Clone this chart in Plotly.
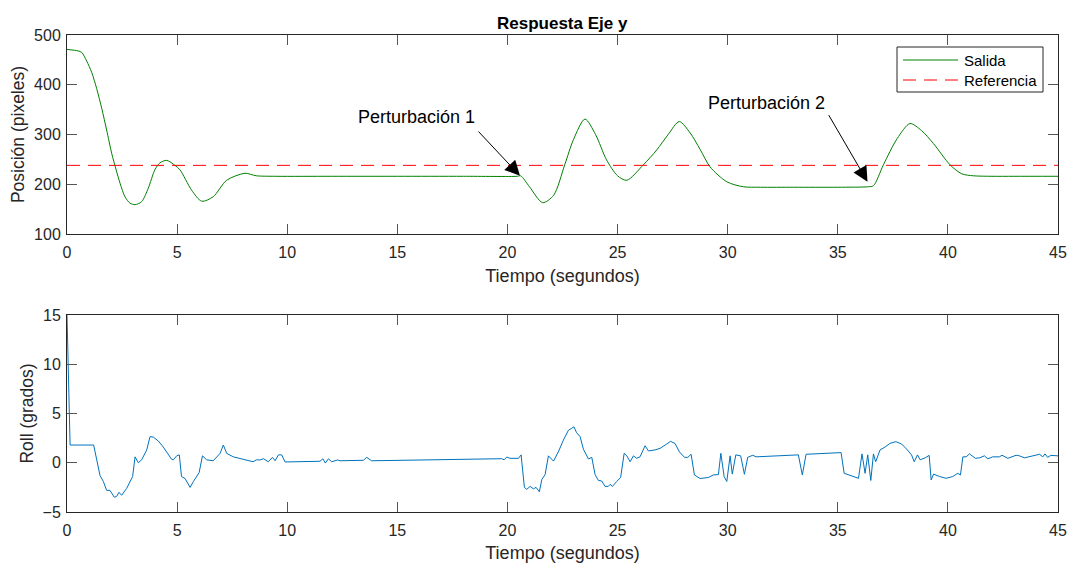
import plotly.graph_objects as go

# --- Posición en el eje y (pixeles) ---
t_pos = [0, 0.51, 0.67, 0.89, 1.12, 1.35, 1.58, 1.8, 2.03, 2.23, 2.41, 2.63, 2.86, 3.09,
         3.39, 3.69, 3.99, 4.22, 4.53, 4.9, 5.13, 5.66, 6.12, 6.64, 7.25, 8.08, 8.6, 9.5,
         12, 15, 18, 20.45, 20.6, 21.0, 21.6, 22.1, 22.6, 23.0, 23.52, 24.0, 24.5, 25.0,
         25.42, 26.17, 26.78, 27.3, 27.8, 28.3, 28.75, 29.2, 29.96, 30.71, 31.5, 33, 35,
         36.39, 36.62, 37.07, 37.7, 38.28, 38.8, 39.34, 40.1, 40.63, 41.16, 42, 43, 45]
salida = [471, 468, 465, 448, 425, 392, 352, 309, 262, 229, 202, 175, 162, 159,
          165, 192, 229, 243, 248, 238, 229, 188, 166, 175, 208, 222, 217, 216,
          216, 216, 216, 216, 217, 195, 163, 178, 239, 290, 331, 300, 249, 217,
          208, 239, 269, 300, 326, 303, 270, 235, 205, 195, 194, 194, 194,
          195, 197, 239, 292, 322, 308, 282, 239, 221, 217, 216, 216, 216]

t_ref = [0, 45]
referencia = [238, 238]

# --- Ángulo de roll (grados) ---
t_roll = [0, 0.14, 1.21, 1.5, 1.65, 1.8, 1.95, 2.15, 2.26, 2.36, 2.48, 2.71, 2.98, 3.09,
          3.24, 3.39, 3.62, 3.77, 3.92, 4.15, 4.37, 4.52, 4.75, 4.83, 4.98, 5.1, 5.2, 5.36,
          5.59, 5.74, 6.0, 6.15, 6.34, 6.64, 6.95, 7.1, 7.25, 7.55, 7.85, 8.15, 8.45, 8.6,
          8.76, 8.92, 9.14, 9.33, 9.45, 9.6, 9.75, 9.9, 11.49, 11.62, 11.73, 11.87, 12.02,
          12.28, 12.4, 13.46, 13.61, 13.83, 19.74, 19.85, 19.97, 20.12, 20.5, 20.62, 20.77,
          20.88, 21.03, 21.18, 21.3, 21.45, 21.56, 21.71, 21.86, 22.09, 22.31, 22.54, 22.77,
          22.92, 23.02, 23.14, 23.3, 23.45, 23.68, 23.83, 23.98, 24.13, 24.28, 24.43, 24.58,
          24.66, 24.77, 24.96, 25.14, 25.3, 25.42, 25.57, 25.72, 25.87, 26.02, 26.25, 26.4,
          26.7, 26.93, 27.16, 27.41, 27.61, 27.81, 28.04, 28.19, 28.34, 28.49, 28.75, 29.12,
          29.35, 29.58, 29.69, 29.84, 29.96, 30.11, 30.21, 30.37, 30.59, 30.76, 30.91, 31.14,
          31.29, 33.21, 33.39, 33.56, 35.15, 35.29, 35.94, 36.1, 36.24, 36.36, 36.5, 36.62,
          36.72, 36.92, 37.15, 37.37, 37.64, 37.9, 38.12, 38.35, 38.47, 38.62, 38.74, 38.97,
          39.15, 39.24, 39.35, 39.62, 39.92, 40.22, 40.45, 40.57, 40.68, 40.83, 40.98, 41.25,
          41.44, 41.66, 41.81, 42.04, 42.34, 42.46, 42.72, 43.1, 43.25, 43.48, 43.86, 44.16,
          44.31, 44.41, 44.53, 44.68, 45]
roll = [15, 1.8, 1.8, -1.3, -1.9, -2.8, -2.8, -3.5, -3.4, -3.0, -3.3, -2.6, -1.4, 0.6,
        0.0, 0.3, 1.3, 2.65, 2.6, 2.2, 1.6, 1.1, 0.35, 0.3, 0.7, 0.8, -1.4, -1.6,
        -2.5, -1.9, -1.0, 0.7, 0.3, 0.2, 0.95, 1.8, 0.95, 0.6, 0.45, 0.3, 0.1, 0.3,
        0.28, 0.41, 0.1, 0.55, 0.2, 0.8, 0.8, 0.08, 0.15, 0.4, -0.03, 0.4, 0.1,
        0.28, 0.2, 0.25, 0.55, 0.2, 0.41, 0.3, 0.58, 0.45, 0.45, 0.8, -2.5,
        -2.7, -2.4, -2.65, -2.5, -2.95, -1.7, -1.2, 0.7, 0.17, 1.1, 2.3, 3.3,
        3.5, 3.65, 3.05, 2.65, 1.37, 0.38, 0.55, -1.2, -1.8, -1.85, -2.4, -2.4,
        -2.2, -2.4, -1.9, -1.5, 0.96, 0.7, 0.1, 0.7, 0.45, 0.6, 1.73, 1.2,
        1.3, 1.46, 1.8, 2.17, 1.96, 1.1, 0.55, 0.55, 0.86, -1.24, -1.6, -1.5,
        -1.24, -1.2, 0.96, -1.4, -1.9, 0.7, -1.15, 0.8, 0.7, -1.17, 0.55, 0.76,
        0.6, 0.8, -1.24, 0.86, 1.03, -1.07, -1.58, 0.9, -1.07, 0.8, -1.8, 0.9,
        0.1, 1.3, 1.6, 1.97, 2.14, 1.9, 1.4, 0.8, 0.1, 0.8, 0.3, 0.5,
        0.75, -1.75, -1.15, -1.4, -1.58, -1.4, -1.07, -1.24, 0.6, 0.6, 0.9, 0.45,
        0.5, 0.7, 0.4, 0.6, 0.6, 0.76, 0.45, 0.76, 0.7, 0.5, 0.7, 0.86,
        0.6, 0.9, 0.55, 0.75, 0.7]

FONT = "Liberation Sans, Arial, sans-serif"
AX_COLOR = "#262626"
GREEN = "#008000"
RED = "#FF0000"
DASH = "13px,8px"

fig = go.Figure()
fig.add_trace(go.Scatter(x=t_pos, y=salida, mode="lines", name="Salida", showlegend=False,
                         line=dict(color=GREEN, width=1, shape="spline", smoothing=0.8),
                         xaxis="x", yaxis="y"))
fig.add_trace(go.Scatter(x=t_ref, y=referencia, mode="lines", name="Referencia", showlegend=False,
                         line=dict(color=RED, width=1, dash=DASH),
                         xaxis="x", yaxis="y"))
fig.add_trace(go.Scatter(x=t_roll, y=roll, mode="lines", showlegend=False,
                         line=dict(color="#0072BD", width=1),
                         xaxis="x2", yaxis="y2"))

axis_common = dict(showline=True, linecolor=AX_COLOR, linewidth=1, mirror="ticks",
                   ticks="inside", ticklen=10, tickcolor="#555555", tickwidth=1,
                   showgrid=False, zeroline=False, automargin=False,
                   tickfont=dict(family=FONT, size=16, color=AX_COLOR))

xtitle = dict(text="Tiempo (segundos)", font=dict(family=FONT, size=18, color=AX_COLOR),
              standoff=9)

# plot area in pixels: left 67, right 1058, top 35, bottom 512
L, R, T, B = 67, 1058, 35, 512
W, H = R - L, B - T


def px(xp):
    return (xp - L) / W


def py(yp):
    return (B - yp) / H


fig.update_layout(
    width=1070, height=563,
    margin=dict(l=L, r=1070 - R, t=T, b=563 - B),
    paper_bgcolor="white", plot_bgcolor="white",
    showlegend=False,
    xaxis=dict(domain=[0, 1], range=[0, 45], dtick=5, anchor="y", title=xtitle,
               ticklabelstandoff=4, **axis_common),
    yaxis=dict(domain=[py(234), 1], range=[100, 500], dtick=100, anchor="x",
               title=dict(text="Posición (pixeles)", font=dict(family=FONT, size=17.5, color=AX_COLOR),
                          standoff=4),
               ticklabelstandoff=2, **axis_common),
    xaxis2=dict(domain=[0, 1], range=[0, 45], dtick=5, anchor="y2", title=xtitle,
                ticklabelstandoff=4, **axis_common),
    yaxis2=dict(domain=[0, py(315)], range=[-5, 15], dtick=5, anchor="x2",
                title=dict(text="Roll (grados)", font=dict(family=FONT, size=17.5, color=AX_COLOR),
                           standoff=4),
                ticklabelstandoff=2, **axis_common),
)

# legend box for the upper panel
fig.add_shape(type="rect", xref="paper", yref="paper",
              x0=px(897), x1=px(1043), y0=py(92), y1=py(47),
              line=dict(color=AX_COLOR, width=1), fillcolor="white", layer="above")
legend_rows = [("Salida", GREEN, "solid", 60), ("Referencia", RED, DASH, 80)]
for label, color, dash, row_y in legend_rows:
    fig.add_shape(type="line", xref="paper", yref="paper",
                  x0=px(903), x1=px(958), y0=py(row_y), y1=py(row_y),
                  line=dict(color=color, width=1, dash=dash), layer="above")
    fig.add_annotation(text=label, xref="paper", yref="paper", x=px(962), y=py(row_y),
                       xanchor="left", yanchor="middle", showarrow=False,
                       font=dict(family=FONT, size=15, color="black"))

fig.add_annotation(text="<b>Respuesta Eje y</b>", xref="paper", yref="paper",
                   x=0.5, y=py(23), xanchor="center", yanchor="middle", showarrow=False,
                   font=dict(family=FONT, size=17, color="black"))

# Perturbaciones: texto y flecha
fig.add_annotation(text="Perturbación 1", xref="x", yref="y", x=15.85, y=335,
                   showarrow=False, font=dict(family=FONT, size=18, color="black"))
fig.add_annotation(text="", xref="x", yref="y", x=20.57, y=217,
                   ax=18.62, ay=309, axref="x", ayref="y",
                   showarrow=True, arrowhead=2, arrowsize=3, arrowwidth=1, arrowcolor="black")
fig.add_annotation(text="Perturbación 2", xref="x", yref="y", x=31.78, y=364,
                   showarrow=False, font=dict(family=FONT, size=18, color="black"))
fig.add_annotation(text="", xref="x", yref="y", x=36.35, y=205,
                   ax=34.55, ay=342, axref="x", ayref="y",
                   showarrow=True, arrowhead=2, arrowsize=3, arrowwidth=1, arrowcolor="black")

fig.write_html("out.html")
